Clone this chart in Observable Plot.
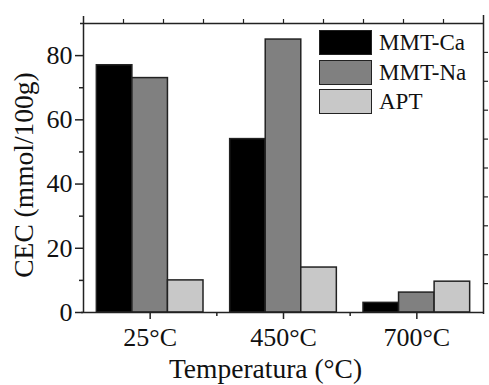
<!DOCTYPE html>
<html>
<head>
<meta charset="utf-8">
<script src="https://cdn.jsdelivr.net/npm/d3@7"></script>
<script src="https://cdn.jsdelivr.net/npm/@observablehq/plot@0.6"></script>
<style>
  html, body { margin: 0; padding: 0; background: #fff; }
  #wrap { position: relative; width: 489px; height: 385px; font-family: "Liberation Serif", "Times New Roman", serif; }
  #legend { position: absolute; left: 319px; top: 28px; }
  .item { display: flex; align-items: center; height: 29.6px; }
  .sw { width: 51px; height: 23px; border: 1.5px solid #222; box-sizing: content-box; }
  .lab { margin-left: 7px; font-size: 23px; color: #111; line-height: 1; }
</style>
</head>
<body>
<div id="wrap"><div id="chart"></div><div id="legend"></div></div>
<script>
// Data
const temps = ["25°C", "450°C", "700°C"];
const series = ["MMT-Ca", "MMT-Na", "APT"];
const mmtCa = [77, 54, 3];
const mmtNa = [73, 85, 6.2];
const apt = [10, 14, 9.6];
const colors = ["#000000", "#808080", "#c8c8c8"];
const yMajor = [0, 20, 40, 60, 80];
const yMinor = [10, 30, 50, 70];
const yTitle = "CEC (mmol/100g)";
const xTitle = "Temperatura (°C)";

const values = [mmtCa, mmtNa, apt];
const groupWidth = 0.8;
const bw = groupWidth / series.length;
const rows = [];
series.forEach((s, j) => {
  temps.forEach((t, i) => {
    const c = i + 1 + (j - (series.length) / 2) * bw;
    rows.push({series: s, temp: t, value: values[j][i], x1: c, x2: c + bw});
  });
});
const catPos = temps.map((t, i) => i + 1);
const minorX = d3.range(1.5, temps.length, 1);
const xDomain = [0.5, temps.length + 0.5];
const topTicks = d3.range(1, 10).map(k => xDomain[0] + k * (xDomain[1] - xDomain[0]) / 10);
const rightTicks = d3.range(1, 10).map(k => k * 9);

const plot = Plot.plot({
  width: 489,
  height: 385,
  marginLeft: 83,
  marginRight: 6,
  marginTop: 23,
  marginBottom: 73,
  style: {fontFamily: "'Liberation Serif', 'Times New Roman', serif", fontSize: "26px", color: "#111", background: "#fff"},
  x: {type: "linear", domain: xDomain, axis: null},
  y: {domain: [0, 90], axis: null},
  color: {domain: series, range: colors},
  marks: [
    Plot.rectY(rows, {x1: "x1", x2: "x2", y: "value", fill: "series", stroke: "#222", strokeWidth: 1.5}),
    // frame lines with small overhangs
    Plot.ruleX([xDomain[0]], {stroke: "#222", strokeWidth: 1.5, insetTop: -7}),
    Plot.ruleX([xDomain[1]], {stroke: "#222", strokeWidth: 1.5, insetTop: -8, insetBottom: -2}),
    Plot.ruleY([0], {stroke: "#222", strokeWidth: 1.5, insetLeft: -2}),
    Plot.ruleY([90], {stroke: "#222", strokeWidth: 1.5, insetLeft: -3}),
    // left axis
    Plot.axisY({anchor: "left", ticks: yMajor, tickSize: 8, tickPadding: 3, tickFormat: d => d, label: null, stroke: "#222", strokeWidth: 1.5, fill: "#111"}),
    Plot.axisY({anchor: "left", ticks: yMinor, tickSize: 4, text: null, label: null, stroke: "#222", strokeWidth: 1.5}),
    // right axis ticks
    Plot.axisY({anchor: "right", ticks: rightTicks, tickSize: 4, text: null, label: null, stroke: "#222", strokeWidth: 1.2}),
    // bottom axis
    Plot.axisX({anchor: "bottom", ticks: catPos, tickSize: 7, tickPadding: 8, tickFormat: d => temps[d - 1], label: null, stroke: "#222", strokeWidth: 1.5, fill: "#111"}),
    Plot.axisX({anchor: "bottom", ticks: minorX, tickSize: 4, text: null, label: null, stroke: "#222", strokeWidth: 1.5}),
    // top axis ticks
    Plot.axisX({anchor: "top", ticks: topTicks, tickSize: 5, text: null, label: null, stroke: "#222", strokeWidth: 1.2}),
    // titles
    Plot.text([yTitle], {frameAnchor: "left", rotate: -90, textAnchor: "middle", dx: -59, dy: 7, fontSize: 27.5, lineAnchor: "middle", fill: "#111"}),
    Plot.text([xTitle], {frameAnchor: "bottom", textAnchor: "middle", dx: -18, dy: 57, fontSize: 27.5, lineAnchor: "middle", fill: "#111"})
  ]
});
document.getElementById("chart").appendChild(plot);

const legend = d3.select("#legend");
series.forEach((s, j) => {
  const it = legend.append("div").attr("class", "item");
  it.append("div").attr("class", "sw").style("background", colors[j]);
  it.append("div").attr("class", "lab").text(s);
});
</script>
</body>
</html>
